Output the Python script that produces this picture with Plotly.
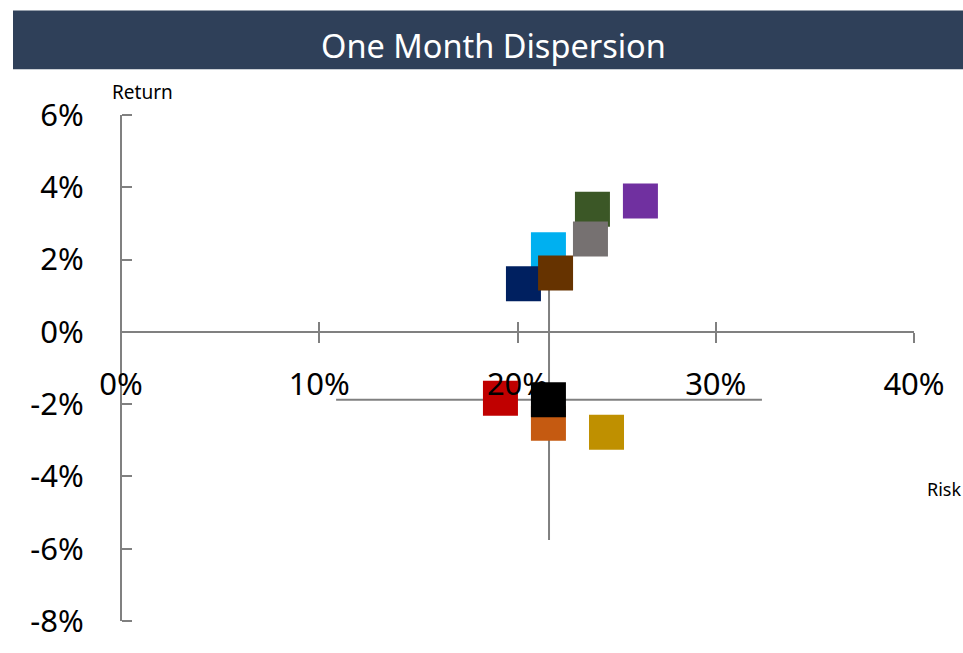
import plotly.graph_objects as go

# Data (risk %, return %)
colors = ["#3B5726", "#767171", "#7030A0", "#00B0F0", "#002060",
          "#663300", "#C55A11", "#000000", "#C00000", "#BF9000"]
risk = [23.78, 23.68, 26.2, 21.56, 20.30, 21.92, 21.56, 21.56, 19.14, 24.49]
ret = [3.39, 2.57, 3.62, 2.27, 1.33, 1.63, -2.53, -1.88, -1.84, -2.78]

# Benchmark dispersion cross
bench_risk = [21.59]
bench_ret = [-1.88]
bench_risk_err = [10.74]
bench_ret_err = [3.88]

x_ticks = [0, 10, 20, 30, 40]
x_labels = ["0%", "10%", "20%", "30%", "40%"]
y_ticks = [-8, -6, -4, -2, 0, 2, 4, 6]
y_labels = ["-8%", "-6%", "-4%", "-2%", "0%", "2%", "4%", "6%"]

AX = "#808080"
FONT = "Noto Sans"

fig = go.Figure()
fig.add_trace(go.Scatter(
    x=bench_risk, y=bench_ret, mode="markers",
    marker=dict(size=1, opacity=0),
    error_x=dict(type="data", array=bench_risk_err, color=AX, thickness=2, width=0),
    error_y=dict(type="data", array=bench_ret_err, color=AX, thickness=2, width=0),
    showlegend=False, hoverinfo="skip"))
for c, xv, yv in zip(colors, risk, ret):
    fig.add_trace(go.Scatter(
        x=[xv], y=[yv], mode="markers",
        marker=dict(symbol="square", size=35, color=c, line=dict(width=0)),
        showlegend=False))
# helper traces for the tick-mark-only overlay axes
fig.add_trace(go.Scatter(x=[None], y=[None], xaxis="x2", yaxis="y", showlegend=False))
fig.add_trace(go.Scatter(x=[None], y=[None], xaxis="x", yaxis="y2", showlegend=False))

y0pos = (0 - y_ticks[0]) / (y_ticks[-1] - y_ticks[0])

fig.update_layout(
    width=963, height=653,
    margin=dict(l=121, r=49, t=115, b=30),
    paper_bgcolor="white", plot_bgcolor="white",
    font=dict(family=FONT, color="black"),
    xaxis=dict(range=[0, 40], tickvals=x_ticks, ticktext=x_labels,
               anchor="free", position=y0pos,
               showline=True, linecolor=AX, linewidth=2,
               ticks="outside", ticklen=10, tickwidth=2, tickcolor=AX,
               showgrid=False, zeroline=False, tickfont=dict(size=31),
               ticklabelstandoff=15),
    xaxis2=dict(range=[0, 40], tickvals=x_ticks, overlaying="x",
                anchor="free", position=y0pos,
                ticks="inside", ticklen=10, tickwidth=2, tickcolor=AX,
                showticklabels=False, showgrid=False, zeroline=False, showline=False),
    yaxis=dict(range=[-8, 6], tickvals=y_ticks, ticktext=y_labels,
               anchor="free", position=0,
               showline=True, linecolor=AX, linewidth=2,
               ticks="", showgrid=False, zeroline=False, tickfont=dict(size=31),
               ticklabelstandoff=30),
    yaxis2=dict(range=[-8, 6], tickvals=y_ticks, overlaying="y",
                anchor="free", position=0, side="right",
                ticks="outside", ticklen=10, tickwidth=2, tickcolor=AX,
                showticklabels=False, showgrid=False, zeroline=False, showline=False),
    shapes=[dict(type="rect", xref="paper", yref="paper",
                 x0=(13 - 121) / 793, x1=(963 - 121) / 793,
                 y0=(623 - 69) / 508, y1=(623 - 10) / 508,
                 fillcolor="#2F4059", line=dict(width=0), layer="below")],
    annotations=[
        dict(text="One Month Dispersion", xref="paper", yref="paper",
             x=(493.5 - 121) / 793, y=(623 - 45) / 508, showarrow=False,
             xanchor="center", yanchor="middle",
             font=dict(size=32.5, color="white", family=FONT)),
        dict(text="Return", xref="paper", yref="paper",
             x=(142.5 - 121) / 793, y=(623 - 92) / 508, showarrow=False,
             xanchor="center", yanchor="middle",
             font=dict(size=19, color="black", family=FONT)),
        dict(text="Risk", xref="paper", yref="paper",
             x=(943.5 - 121) / 793, y=(623 - 490) / 508, showarrow=False,
             xanchor="center", yanchor="middle",
             font=dict(size=18, color="black", family=FONT)),
    ],
)

fig.write_html("out.html", config={"displayModeBar": False},
               post_script="document.body.style.margin='0';")
